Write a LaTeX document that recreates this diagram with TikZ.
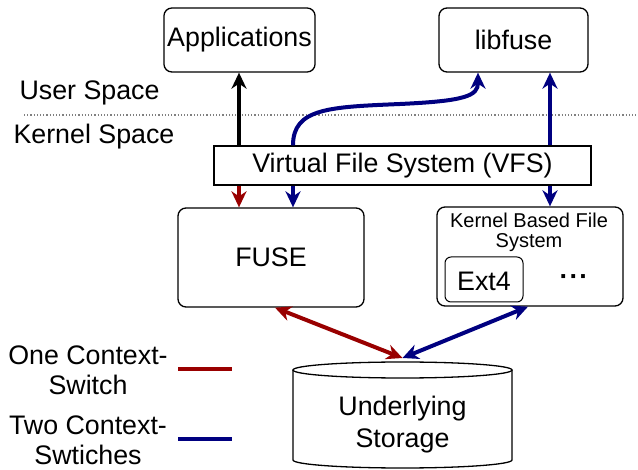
\documentclass[tikz,border=0pt]{standalone}
\usepackage{fontspec}
\setmainfont{Liberation Sans}
\usetikzlibrary{arrows.meta,shapes.geometric}
\definecolor{cred}{RGB}{153,0,0}
\definecolor{cblue}{RGB}{0,0,128}
\begin{document}
\begin{tikzpicture}[x=1pt,y=-1pt,
  box/.style={draw,line width=1.3pt,rounded corners=8pt,fill=white},
  big/.style={font=\fontsize{26.8}{31}\selectfont},
  small/.style={font=\fontsize{20}{23}\selectfont},
  conn/.style={line width=4pt,-{Stealth[length=16pt,width=15pt,inset=5pt]}},
  dconn/.style={line width=4pt,{Stealth[length=16pt,width=15pt,inset=5pt]}-{Stealth[length=16pt,width=15pt,inset=5pt]}}]
\useasboundingbox (0,0) rectangle (638,470);
% nodes
\node[box,big,minimum width=149pt,minimum height=64pt] (app) at (239.5,40) {Applications};
\node[box,big,minimum width=149pt,minimum height=64pt] (lib) at (513.5,40) {libfuse};
\node[big,anchor=west] (us) at (16,93) {User Space};
\node[big,anchor=west] (ks) at (10,137) {Kernel Space};
\coordinate (dl) at (24,115);
\coordinate (dr) at (638,115);
\draw[gray,dotted,line width=1.2pt] (dl) -- (dr);
\node[box,minimum width=186pt,minimum height=99pt] (fuse) at (271,257.5) {};
\node[big] (fusel) at (271,257.5) {FUSE};
\node[box,minimum width=186pt,minimum height=99pt] (kfs) at (530,256.5) {};
\node[small,align=center] (kfsl) at (529,232) {Kernel Based File\\[-3pt]System};
\node[box,rounded corners=6pt,line width=1pt,minimum width=78pt,minimum height=45pt] (ext) at (484,279.5) {};
\node[big] (extl) at (484,281) {Ext4};
\node[big] (dots) at (574,280) {\textbf{·\kern1pt·\kern1pt·}};
% arrows behind VFS
\draw[conn,cblue] (550,150) -- (lib.south -| 550,0);
\draw[conn,cblue] (550,150) -- (kfs.north -| 550,0);
\node[draw,line width=1.3pt,fill=white,big,minimum width=377pt,minimum height=39pt,inner sep=0pt] (vfs) at (402.5,165.5) {Virtual File System (VFS)};
\draw[conn,black] (vfs.north -| 239,0) -- (app.south -| 239,0);
\draw[conn,cred] (vfs.south -| 239,0) -- (fuse.north -| 239,0);
\draw[conn,cblue] (vfs.south -| 293,0) -- (fuse.north -| 293,0);
\draw[conn,cblue] (vfs.north -| 293,0) .. controls (293,108) and (330,107) .. (400,104) .. controls (465,101) and (478,96) .. (lib.south -| 478,0);
% storage (cylinder)
\draw[line width=1.3pt,fill=white] (293,370) -- (293,460) arc[start angle=180,end angle=0,x radius=109.5,y radius=8] -- (512,370);
\draw[line width=1.3pt,fill=white] (402.5,370) ellipse[x radius=109.5,y radius=8];
\node[big,align=center] (st) at (402.5,425) {Underlying\\[1pt]Storage};
\coordinate (sttop) at (402.5,358);
\draw[dconn,cred] (fuse.south -| 275,0) -- (sttop);
\draw[dconn,cblue] (kfs.south -| 528,0) -- (sttop);
% legend
\node[big,align=center] (l1) at (88,370) {One Context-\\[-1pt]Switch};
\node[big,align=center] (l2) at (88,440) {Two Context-\\[-1pt]Swtiches};
\coordinate (r1) at (178,369);
\coordinate (r2) at (232,369);
\coordinate (b1) at (178,439);
\coordinate (b2) at (232,439);
\draw[cred,line width=4.5pt] (r1) -- (r2);
\draw[cblue,line width=4.5pt] (b1) -- (b2);
\end{tikzpicture}
\end{document}
